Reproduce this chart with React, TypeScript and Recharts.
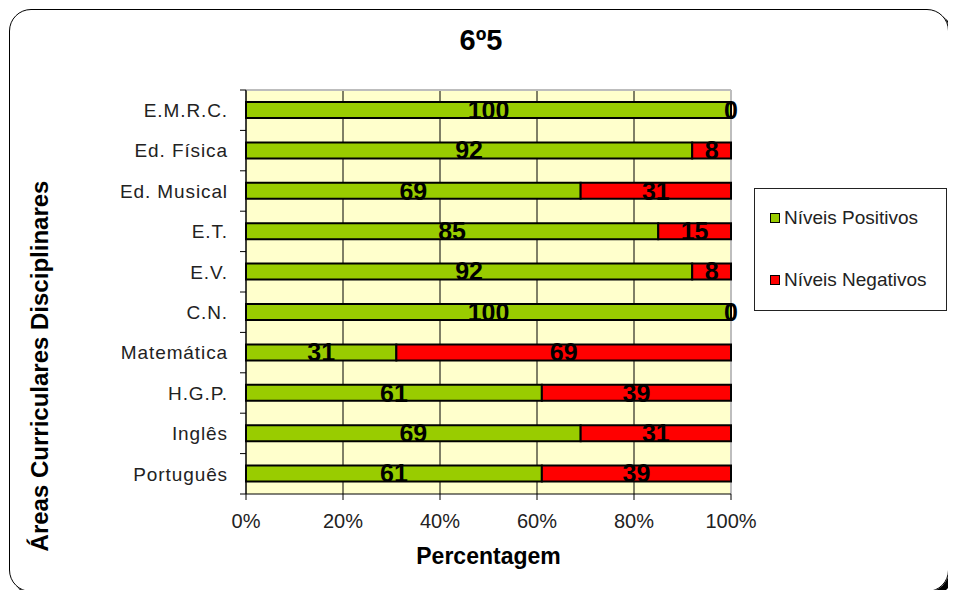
import {
    BarChart,
    Bar,
    XAxis,
    YAxis,
    CartesianGrid,
    LabelList,
    Legend,
    Label
} from "recharts";

// subjects, top to bottom as in the chart
const areas = [
    "E.M.R.C.",
    "Ed. Física",
    "Ed. Musical",
    "E.T.",
    "E.V.",
    "C.N.",
    "Matemática",
    "H.G.P.",
    "Inglês",
    "Português"
];

const positivos = [100, 92, 69, 85, 92, 100, 31, 61, 69, 61];
const negativos = [0, 8, 31, 15, 8, 0, 69, 39, 31, 39];

const seriesNames = ["Níveis Positivos", "Níveis Negativos"];

const percentTicks = [0, 20, 40, 60, 80, 100];

const FONT = "'Liberation Sans', Arial, sans-serif";

const CHART_W = 940;
const CHART_H = 582;
const MARGIN = { top: 82, right: 217, left: 10, bottom: 16 };
const Y_AXIS_W = 228;
const X_AXIS_H = 80;
const PLOT_H = CHART_H - MARGIN.top - MARGIN.bottom - X_AXIS_H;
const BAND = PLOT_H / areas.length;
const TICK_SIZE = 6;
const TICK_MARGIN = 12;

const data = areas.map((area, i) => ({
    area,
    positivos: positivos[i],
    negativos: negativos[i]
}));

const labelStyle = {
    fill: "#000",
    fontFamily: FONT,
    fontWeight: "bold",
    fontSize: 25
};

// category label + small tick marks on the band boundaries (Excel style)
function AreaTick({ x, y, payload, index }: any) {
    const axisX = x + TICK_SIZE + TICK_MARGIN;
    const isLast = index === areas.length - 1;
    return (
        <g>
            <text
                x={x}
                y={y}
                dy="0.36em"
                textAnchor="end"
                fontFamily={FONT}
                fontSize={19}
                letterSpacing={0.9}
                fill="#222"
            >
                {payload.value}
            </text>
            <line x1={axisX - 6} x2={axisX} y1={y - BAND / 2} y2={y - BAND / 2} stroke="#000" />
            {isLast && (
                <line x1={axisX - 6} x2={axisX} y1={y + BAND / 2} y2={y + BAND / 2} stroke="#000" />
            )}
        </g>
    );
}

// zero-width red segments get no label from recharts, so draw their "0" at the end of the green bar
function ZeroLabel({ x, y, width, height, value }: any) {
    if (value !== 0) return null;
    const cx = x + width;
    return (
        <g>
            <line x1={cx} x2={cx} y1={y} y2={y + height} stroke="#000" strokeWidth={2} />
            <text
                x={cx}
                y={y + height / 2}
                dy="0.36em"
                textAnchor="middle"
                {...labelStyle}
            >
                {value}
            </text>
        </g>
    );
}

function LegendBox({ payload }: any) {
    const items = [...(payload || [])].sort(
        (a: any, b: any) => seriesNames.indexOf(a.value) - seriesNames.indexOf(b.value)
    );
    return (
        <div
            style={{
                boxSizing: "border-box",
                width: 193,
                height: 123,
                border: "1px solid #222",
                background: "#fff",
                fontFamily: FONT,
                fontSize: 19,
                color: "#222",
                position: "relative"
            }}
        >
            {items.map((entry: any, i: number) => (
                <div
                    key={entry.value}
                    style={{
                        position: "absolute",
                        left: 15,
                        top: 18 + i * 62,
                        display: "flex",
                        alignItems: "center",
                        whiteSpace: "nowrap"
                    }}
                >
                    <span
                        style={{
                            display: "inline-block",
                            width: 8,
                            height: 8,
                            border: "1.5px solid #000",
                            background: entry.color,
                            marginRight: 4
                        }}
                    />
                    {entry.value}
                </div>
            ))}
        </div>
    );
}

function App() {
    return (
        <div style={{ position: "relative", width: CHART_W, height: CHART_H }}>

            <div
                style={{
                    position: "absolute",
                    left: 1,
                    top: 1,
                    width: 940,
                    height: 583,
                    boxSizing: "border-box",
                    border: "1.5px solid #000",
                    borderRadius: 22,
                    boxShadow: "4px 4px 0 #000"
                }}
            />

            <div
                style={{
                    position: "absolute",
                    left: 0,
                    width: 946,
                    top: 16,
                    textAlign: "center",
                    fontFamily: FONT,
                    fontWeight: "bold",
                    fontSize: 29
                }}
            >
                6º5
            </div>

            <div style={{ position: "absolute", left: 0, top: 0 }}>
                <BarChart
                    width={CHART_W}
                    height={CHART_H}
                    data={data}
                    layout="vertical"
                    margin={MARGIN}
                    barSize={16}
                >

                    <CartesianGrid
                        horizontal={false}
                        stroke="#000"
                        fill="#FFFFCC"
                        fillOpacity={1}
                    />
                    <CartesianGrid
                        vertical={true}
                        horizontal={true}
                        stroke="#bdbdbd"
                        strokeWidth={2}
                        horizontalCoordinatesGenerator={({ offset }: any) => [offset.top]}
                        verticalCoordinatesGenerator={({ offset }: any) => [offset.left + offset.width]}
                    />

                    <XAxis
                        type="number"
                        domain={[0, 100]}
                        ticks={percentTicks}
                        tickFormatter={(v) => `${v}%`}
                        height={X_AXIS_H}
                        tickSize={6}
                        tickMargin={14}
                        axisLine={{ stroke: "#000" }}
                        tickLine={{ stroke: "#000" }}
                        tick={{ fill: "#222", fontSize: 20, fontFamily: FONT }}
                    >
                        <Label
                            value="Percentagem"
                            position="insideBottom"
                            offset={10}
                            style={{ fontFamily: FONT, fontWeight: "bold", fontSize: 23, fill: "#000" }}
                        />
                    </XAxis>

                    <YAxis
                        type="category"
                        dataKey="area"
                        width={Y_AXIS_W}
                        interval={0}
                        tickSize={TICK_SIZE}
                        tickMargin={TICK_MARGIN}
                        tickLine={false}
                        axisLine={{ stroke: "#000" }}
                        tick={<AreaTick />}
                    >
                        <Label
                            content={({ viewBox }: any) => {
                                const cx = viewBox.x + 21;
                                const cy = viewBox.y + viewBox.height / 2 + 74;
                                return (
                                    <text
                                        x={cx}
                                        y={cy}
                                        transform={`rotate(-90, ${cx}, ${cy})`}
                                        textAnchor="middle"
                                        dominantBaseline="central"
                                        fontFamily={FONT}
                                        fontWeight="bold"
                                        fontSize={24}
                                        fill="#000"
                                    >
                                        Áreas Curriculares Disciplinares
                                    </text>
                                );
                            }}
                        />
                    </YAxis>

                    <Legend
                        layout="vertical"
                        align="center"
                        verticalAlign="middle"
                        content={<LegendBox />}
                        wrapperStyle={{ left: 746, top: 180, width: 193, height: 123 }}
                    />

                    <Bar
                        dataKey="positivos"
                        name="Níveis Positivos"
                        stackId="a"
                        fill="#99CC00"
                        stroke="#000"
                        strokeWidth={2}
                        isAnimationActive={false}
                    >
                        <LabelList dataKey="positivos" position="center" {...labelStyle} />
                        <LabelList dataKey="negativos" content={<ZeroLabel />} />
                    </Bar>

                    <Bar
                        dataKey="negativos"
                        name="Níveis Negativos"
                        stackId="a"
                        fill="#FF0000"
                        stroke="#000"
                        strokeWidth={2}
                        isAnimationActive={false}
                    >
                        <LabelList dataKey="negativos" position="center" {...labelStyle} />
                    </Bar>

                </BarChart>
            </div>

        </div>
    );
}

export default App;
